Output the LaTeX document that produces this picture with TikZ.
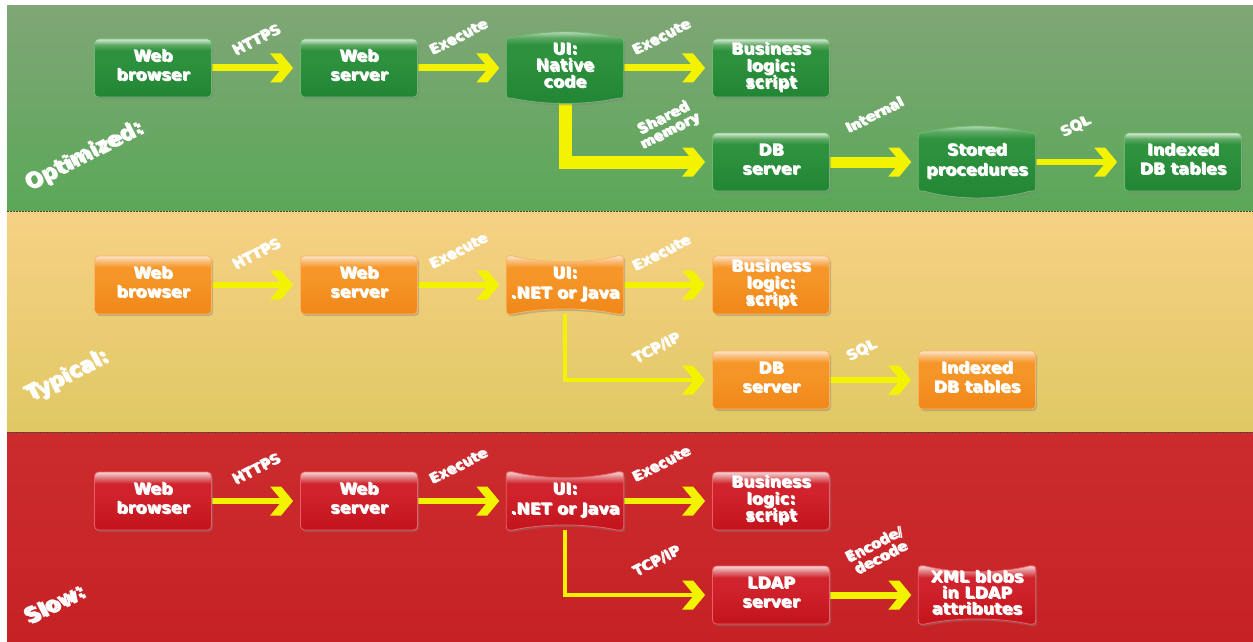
\documentclass[tikz,border=0pt]{standalone}
\usepackage{fontspec}
\setmainfont{DejaVu Sans}
\usetikzlibrary{shadows,calc}

\definecolor{bandGtop}{RGB}{128,166,118}
\definecolor{bandGbot}{RGB}{90,168,88}
\definecolor{bandYtop}{RGB}{246,209,132}
\definecolor{bandYbot}{RGB}{224,200,100}
\definecolor{bandRtop}{RGB}{204,44,46}
\definecolor{bandRbot}{RGB}{198,34,38}
\definecolor{sepc}{RGB}{70,70,60}
\definecolor{arrowY}{RGB}{243,243,0}
\definecolor{shadowc}{RGB}{45,45,45}

\definecolor{g0}{RGB}{33,133,52}
\definecolor{g1}{RGB}{45,145,62}
\definecolor{g2}{RGB}{95,170,100}
\definecolor{g3}{RGB}{215,235,215}
\definecolor{gborder}{RGB}{110,185,110}
\definecolor{o0}{RGB}{240,135,25}
\definecolor{o1}{RGB}{246,150,40}
\definecolor{o2}{RGB}{248,185,110}
\definecolor{o3}{RGB}{252,228,200}
\definecolor{oborder}{RGB}{250,180,100}
\definecolor{r0}{RGB}{195,20,28}
\definecolor{r1}{RGB}{208,35,45}
\definecolor{r2}{RGB}{225,120,125}
\definecolor{r3}{RGB}{245,215,215}
\definecolor{rborder}{RGB}{235,95,100}

\pgfdeclareverticalshading{gshade}{100bp}{color(0bp)=(g0); color(25bp)=(g0); color(57bp)=(g1); color(65bp)=(g1); color(70bp)=(g2); color(75bp)=(g3); color(100bp)=(g3)}
\pgfdeclareverticalshading{oshade}{100bp}{color(0bp)=(o0); color(25bp)=(o0); color(57bp)=(o1); color(65bp)=(o1); color(70bp)=(o2); color(75bp)=(o3); color(100bp)=(o3)}
\pgfdeclareverticalshading{rshade}{100bp}{color(0bp)=(r0); color(25bp)=(r0); color(57bp)=(r1); color(65bp)=(r1); color(70bp)=(r2); color(75bp)=(r3); color(100bp)=(r3)}

\pgfdeclarearrow{
  name = Chev,
  setup code = {
    \pgfarrowssettipend{0pt}
    \pgfarrowssetlineend{-11pt}
    \pgfarrowssetbackend{-23pt}
    \pgfarrowshullpoint{0pt}{0pt}
    \pgfarrowshullpoint{-23pt}{14.5pt}
    \pgfarrowshullpoint{-23pt}{-14.5pt}
  },
  drawing code = {
    \pgfpathmoveto{\pgfqpoint{0pt}{0pt}}
    \pgfpathlineto{\pgfqpoint{-12pt}{14.5pt}}
    \pgfpathlineto{\pgfqpoint{-23pt}{14.5pt}}
    \pgfpathlineto{\pgfqpoint{-11pt}{0pt}}
    \pgfpathlineto{\pgfqpoint{-23pt}{-14.5pt}}
    \pgfpathlineto{\pgfqpoint{-12pt}{-14.5pt}}
    \pgfpathclose
    \pgfusepathqfill
  }
}

\pgfdeclarelayer{bands}
\pgfdeclarelayer{arw}
\pgfdeclarelayer{shapes}
\pgfsetlayers{bands,arw,shapes,main}

\newsavebox\shbox
\newlength\shoff
\setlength\shoff{1.2pt}
\newcommand\stx[2][1]{\sbox\shbox{\renewcommand\arraystretch{#1}\begin{tabular}{@{}c@{}}#2\end{tabular}}\rlap{\hspace{\shoff}\raisebox{-\shoff}{\color{shadowc}\usebox\shbox}}\usebox\shbox}
\newcommand\boxfont{\fontsize{16}{19}\selectfont\bfseries}
\newcommand\lblfont{\fontsize{14}{15}\selectfont\bfseries}
\newcommand\bandfont{\fontsize{21}{23}\selectfont\bfseries\setlength\shoff{2pt}}

% bulging / pinched outline built on a node's rectangle
\newcommand\bulge[3]{($(#1.north west)+(0,6)$) -- ($(#1.south west)+(0,-6)$) .. controls (#1.south west) .. ($(#1.south west)+(6,0)$) .. controls ($(#1.south west)+(38,#3)$) and ($(#1.south east)+(-38,#3)$) .. ($(#1.south east)+(-6,0)$) .. controls (#1.south east) .. ($(#1.south east)+(0,-6)$) -- ($(#1.north east)+(0,6)$) .. controls (#1.north east) .. ($(#1.north east)+(-6,0)$) .. controls ($(#1.north east)+(-38,#2)$) and ($(#1.north west)+(38,#2)$) .. ($(#1.north west)+(6,0)$) .. controls (#1.north west) .. cycle}

\tikzset{
  x=1pt, y=-1pt,
  dshadow/.style={drop shadow={shadow xshift=1.5pt, shadow yshift=-2pt, opacity=0.4}},
  boxbase/.style={minimum width=117pt, minimum height=58pt, inner sep=0pt, text=white, font=\boxfont},
  gbox/.style={boxbase, rounded corners=4pt, shade, shading=gshade, draw=gborder, line width=0.8pt, dshadow},
  obox/.style={boxbase, rounded corners=4pt, shade, shading=oshade, draw=oborder, line width=0.8pt, dshadow},
  rbox/.style={boxbase, rounded corners=4pt, shade, shading=rshade, draw=rborder, line width=0.8pt, dshadow},
  gshape/.style={shade, shading=gshade, draw=gborder, line width=0.8pt, dshadow},
  oshape/.style={shade, shading=oshade, draw=oborder, line width=0.8pt, dshadow},
  rshape/.style={shade, shading=rshade, draw=rborder, line width=0.8pt, dshadow},
  flow/.style={color=arrowY, line width=#1, -Chev, shorten >=7pt},
  lbl/.style={text=white, font=\lblfont, rotate=27, inner sep=0pt},
  bandlbl/.style={text=white, font=\bandfont, rotate=27, inner sep=0pt},
  sep/.style={sepc, line width=1pt, dash pattern=on 1.5pt off 1.5pt},
}

\begin{document}
\begin{tikzpicture}
\useasboundingbox (0,0) rectangle (1253,642);

% ---------- bands
\begin{pgfonlayer}{bands}
\shade[top color=bandGtop, bottom color=bandGbot] (7,6) rectangle (1253,211.5);
\shade[top color=bandYtop, bottom color=bandYbot] (7,211.5) rectangle (1253,432.5);
\shade[top color=bandRtop, bottom color=bandRbot] (7,432.5) rectangle (1253,642);
\draw[sep] (7,211.5) -- (1253,211.5);
\draw[sep] (7,432.5) -- (1253,432.5);
\end{pgfonlayer}

% ---------- Optimized
\node[gbox] (gwb) at (153,68) {\stx{Web\\browser}};
\node[gbox] (gws) at (359,68) {\stx{Web\\server}};
\node[boxbase, minimum height=60pt] (gui) at (565,68) {\stx[0.79]{UI:\\Native\\code}};
\node[gbox] (gbl) at (771,68) {\stx[0.82]{Business\\logic:\\script}};
\node[gbox] (gdb) at (771,162) {\stx{DB\\server}};
\node[boxbase] (gsp) at (977,162) {\stx[1.05]{Stored\\procedures}};
\node[gbox] (git) at (1183,162) {\stx{Indexed\\DB tables}};

% ---------- Typical
\node[obox] (ywb) at (153,285) {\stx{Web\\browser}};
\node[obox] (yws) at (359,285) {\stx{Web\\server}};
\node[boxbase] (yui) at (565,285) {\stx[1.05]{UI:\\.NET or Java}};
\node[obox] (ybl) at (771,285) {\stx[0.82]{Business\\logic:\\script}};
\node[obox] (ydb) at (771,380) {\stx{DB\\server}};
\node[obox] (yit) at (977,380) {\stx{Indexed\\DB tables}};

% ---------- Slow
\node[rbox] (rwb) at (153,501) {\stx{Web\\browser}};
\node[rbox] (rws) at (359,501) {\stx{Web\\server}};
\node[boxbase] (rui) at (565,501) {\stx[1.05]{UI:\\.NET or Java}};
\node[rbox] (rbl) at (771,501) {\stx[0.82]{Business\\logic:\\script}};
\node[rbox] (rld) at (771,595) {\stx{LDAP\\server}};
\node[boxbase] (rxm) at (977,595) {\stx[0.74]{XML blobs\\in LDAP\\attributes}};

% ---------- special outlines
\begin{pgfonlayer}{shapes}
\path[gshape] \bulge{gui}{-8}{7};
\path[gshape] \bulge{gsp}{-9}{9};
\path[oshape] \bulge{yui}{8}{-7};
\path[rshape] \bulge{rui}{8}{-7};
\path[rshape] \bulge{rxm}{8}{-7};
\end{pgfonlayer}

% ---------- connectors
\begin{pgfonlayer}{arw}
\draw[flow=7pt] (gwb.east) -- (gws.west);
\draw[flow=7pt] (gws.east) -- (gui.west);
\draw[flow=7pt] (gui.east) -- (gbl.west);
\draw[flow=13pt] (gui.south) |- (gdb.west);
\draw[flow=11pt] (gdb.east) -- (gsp.west);
\draw[flow=6pt] (gsp.east) -- (git.west);

\draw[flow=6pt] (ywb.east) -- (yws.west);
\draw[flow=6pt] (yws.east) -- (yui.west);
\draw[flow=6pt] (yui.east) -- (ybl.west);
\draw[flow=4pt] (yui.south) |- (ydb.west);
\draw[flow=6pt] (ydb.east) -- (yit.west);

\draw[flow=6pt] (rwb.east) -- (rws.west);
\draw[flow=6pt] (rws.east) -- (rui.west);
\draw[flow=6pt] (rui.east) -- (rbl.west);
\draw[flow=4pt] (rui.south) |- (rld.west);
\draw[flow=7pt] (rld.east) -- (rxm.west);
\end{pgfonlayer}

% ---------- connector labels
\node[lbl] (lg1) at (257,42) {\stx{HTTPS}};
\node[lbl] (lg2) at (459,39) {\stx{Execute}};
\node[lbl] (lg3) at (662,39) {\stx{Execute}};
\node[lbl] (lg4) at (667,126) {\stx[0.95]{Shared\\memory}};
\node[lbl] (lg5) at (875,117) {\stx{Internal}};
\node[lbl] (lg6) at (1076,128) {\stx{SQL}};

\node[lbl] (ly1) at (257,256) {\stx{HTTPS}};
\node[lbl] (ly2) at (459,253) {\stx{Execute}};
\node[lbl] (ly3) at (662,255) {\stx{Execute}};
\node[lbl] (ly4) at (657,350) {\stx{TCP/IP}};
\node[lbl] (ly5) at (862,352) {\stx{SQL}};

\node[lbl] (lr1) at (257,471) {\stx{HTTPS}};
\node[lbl] (lr2) at (459,468) {\stx{Execute}};
\node[lbl] (lr3) at (662,466) {\stx{Execute}};
\node[lbl] (lr4) at (657,563) {\stx{TCP/IP}};
\node[lbl] (lr5) at (878,553) {\stx[0.9]{Encode/\\decode}};

% ---------- band labels
\node[bandlbl] (bopt) at (85,158) {\stx{Optimized:}};
\node[bandlbl] (btyp) at (68,378) {\stx{Typical:}};
\node[bandlbl] (bslw) at (56,607) {\stx{Slow:}};
\end{tikzpicture}
\end{document}
